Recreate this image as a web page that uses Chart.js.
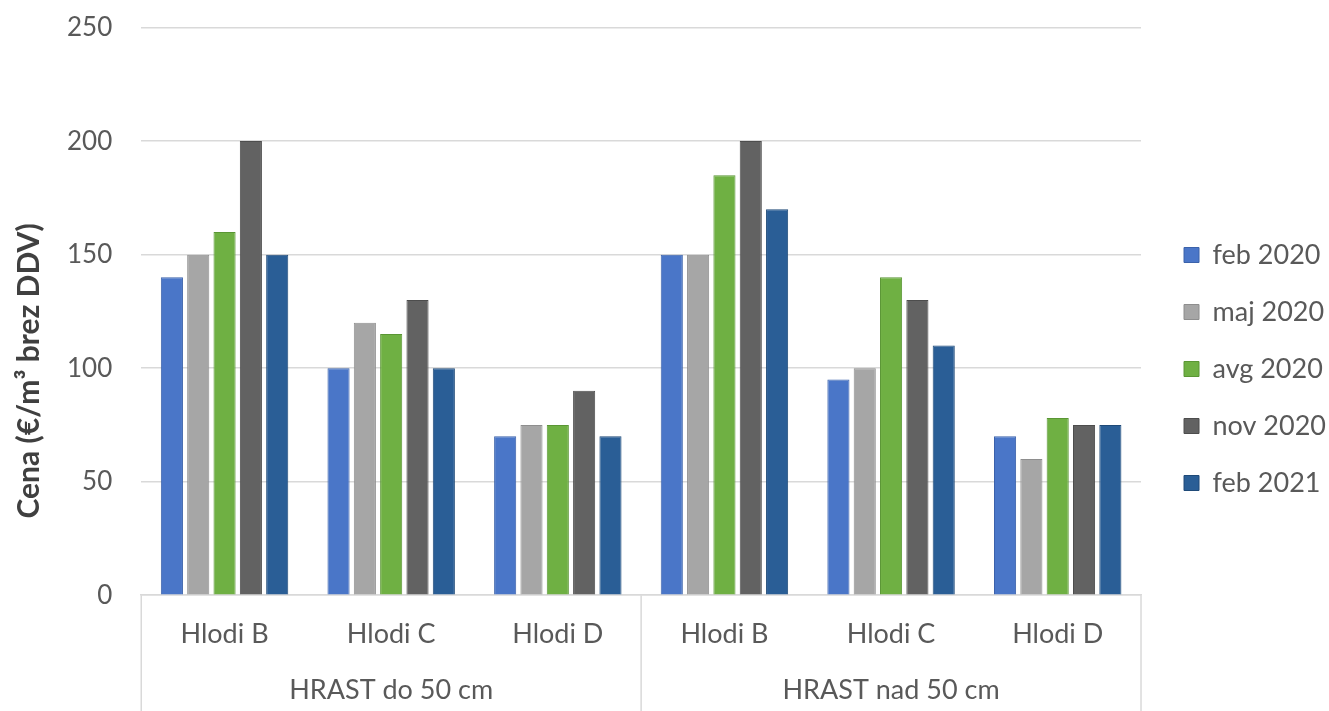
<!DOCTYPE html>
<html lang="sl">
<head>
    <meta charset="UTF-8">
    <title>Cena hrastovih hlodov</title>
    <script src="https://cdn.jsdelivr.net/npm/chart.js"></script>
    <style>
        html, body { margin: 0; padding: 0; background: #ffffff; }
        .wrap { width: 1329px; height: 711px; }
    </style>
</head>
<body>
    <div class="wrap"><canvas id="chart"></canvas></div>

    <script>
        // --- Data ---
        const categories = ['Hlodi B', 'Hlodi C', 'Hlodi D', 'Hlodi B', 'Hlodi C', 'Hlodi D'];
        const groups = ['HRAST do 50 cm', 'HRAST nad 50 cm'];
        const seriesNames = ['feb 2020', 'maj 2020', 'avg 2020', 'nov 2020', 'feb 2021'];
        const feb2020 = [140, 100, 70, 150, 95, 70];
        const maj2020 = [150, 120, 75, 150, 100, 60];
        const avg2020 = [160, 115, 75, 185, 140, 78];
        const nov2020 = [200, 130, 90, 200, 130, 75];
        const feb2021 = [150, 100, 70, 170, 110, 75];
        const yTicks = [0, 50, 100, 150, 200, 250];
        const yTitle = 'Cena (€/m³ brez DDV)';

        const seriesValues = [feb2020, maj2020, avg2020, nov2020, feb2021];
        const fills = ['#4a76c8', '#a6a6a6', '#6fb043', '#626262', '#2a5e96'];
        const edges = ['#3b62aa', '#8e8e8e', '#5a9634', '#4d4d4d', '#1f4a78'];

        const textColor = '#595959';
        const gridColor = '#d9d9d9';
        const fontFamily = 'Lato, "Noto Sans", sans-serif';

        // separator lines below the axis + the y axis title
        const extras = {
            id: 'extras',
            afterDraw(chart) {
                const x = chart.scales.x;
                const ctx = chart.ctx;
                ctx.save();
                ctx.strokeStyle = gridColor;
                ctx.lineWidth = 1.5;
                [x.left, (x.left + x.right) / 2, x.right].forEach(px => {
                    ctx.beginPath();
                    ctx.moveTo(px, chart.chartArea.bottom);
                    ctx.lineTo(px, chart.height);
                    ctx.stroke();
                });

                const cy = (chart.chartArea.top + chart.scales.x2.bottom) / 2;
                ctx.translate(29, cy);
                ctx.rotate(-Math.PI / 2);
                ctx.fillStyle = '#404040';
                ctx.font = 'bold 30px ' + fontFamily;
                ctx.textAlign = 'center';
                ctx.textBaseline = 'middle';
                ctx.fillText(yTitle, 0, 0);
                ctx.restore();
            }
        };

        new Chart(document.getElementById('chart'), {
            type: 'bar',
            data: {
                labels: categories,
                datasets: seriesNames.map((name, i) => ({
                    label: name,
                    data: seriesValues[i],
                    backgroundColor: fills[i],
                    borderColor: edges[i],
                    borderWidth: 1,
                    categoryPercentage: 0.79,
                    barPercentage: 0.84
                }))
            },
            options: {
                responsive: true,
                maintainAspectRatio: false,
                animation: false,
                layout: { padding: { top: 0, right: -7, left: 55, bottom: -3 } },
                plugins: {
                    legend: {
                        position: 'right',
                        // blank title only nudges the entries down a little
                        title: { display: true, text: ' ', font: { size: 10 }, padding: 6 },
                        labels: {
                            color: textColor,
                            font: { family: fontFamily, size: 27 },
                            boxWidth: 15,
                            boxHeight: 15,
                            padding: 30
                        }
                    },
                    tooltip: { enabled: false }
                },
                scales: {
                    x: {
                        grid: { display: false },
                        border: { color: gridColor, width: 1.5 },
                        ticks: {
                            color: textColor,
                            font: { family: fontFamily, size: 27 },
                            padding: 15,
                            maxRotation: 0
                        }
                    },
                    x2: {
                        type: 'category',
                        labels: groups,
                        offset: true,
                        position: 'bottom',
                        grid: { display: false, drawTicks: false },
                        border: { display: false },
                        ticks: {
                            color: textColor,
                            font: { family: fontFamily, size: 27 },
                            padding: 8,
                            maxRotation: 0
                        }
                    },
                    y: {
                        min: 0,
                        max: 250,
                        afterBuildTicks: axis => { axis.ticks = yTicks.map(v => ({ value: v })); },
                        grid: { color: gridColor, lineWidth: 1.5, tickLength: 17, tickColor: 'rgba(0,0,0,0)' },
                        border: { display: false },
                        ticks: {
                            color: textColor,
                            font: { family: fontFamily, size: 26 },
                            padding: 12
                        }
                    },
                    // empty spacer between plot and legend
                    gap: {
                        position: 'right',
                        grid: { display: false, drawTicks: false },
                        border: { display: false },
                        ticks: { display: false },
                        afterFit: axis => { axis.width = 13; }
                    }
                }
            },
            plugins: [extras]
        });
    </script>
</body>
</html>
